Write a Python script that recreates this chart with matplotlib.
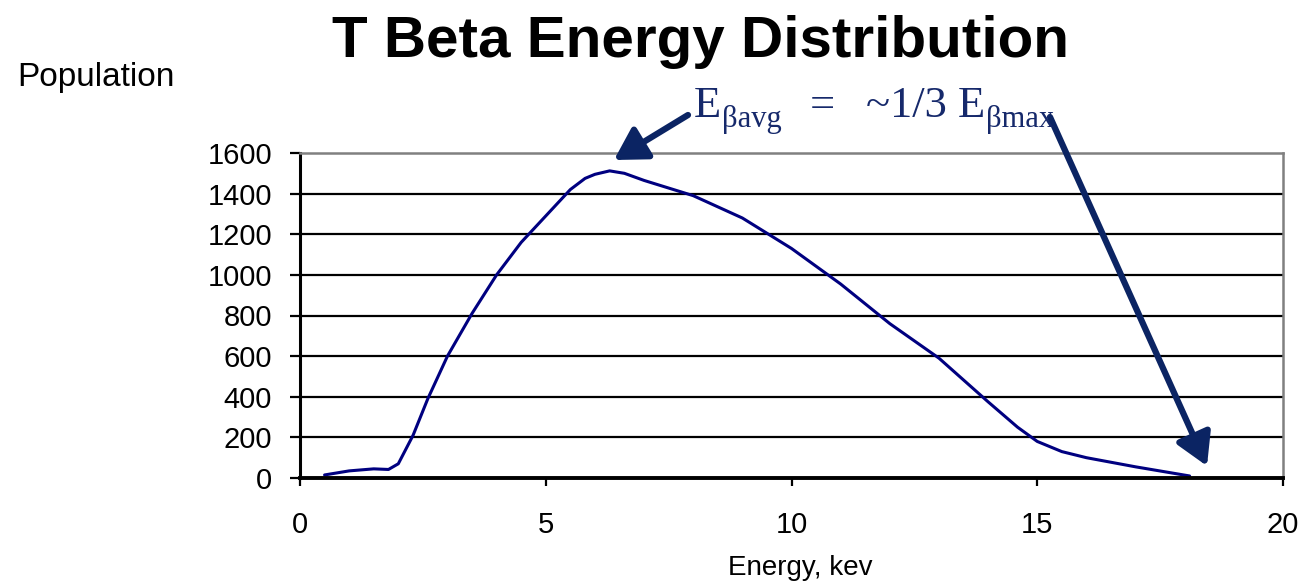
import numpy as np
import matplotlib
matplotlib.use('agg')
import matplotlib.pyplot as plt
from matplotlib.patches import FancyArrowPatch

# energy (kev) and population
energy = [0.5, 1.0, 1.5, 1.8, 2.0, 2.15, 2.3, 2.6, 3.0, 3.5, 4.0, 4.5, 5.0, 5.5, 5.8, 6.0, 6.3,
          6.6, 7.0, 8.0, 9.0, 10.0, 11.0, 12.0, 13.0, 14.0, 14.6, 15.0, 15.5, 16.0, 17.0, 18.1]
population = [15, 35, 45, 42, 70, 140, 210, 390, 600, 810, 1000, 1160, 1290, 1420, 1475, 1495, 1512,
              1500, 1465, 1390, 1280, 1130, 955, 760, 590, 375, 250, 180, 130, 100, 55, 10]

x_ticks = [0, 5, 10, 15, 20]
y_ticks = [0, 200, 400, 600, 800, 1000, 1200, 1400, 1600]

W, H = 1312, 585
NAVY = '#000080'
ARROW = '#0b2463'
TXT = '#16296b'

plt.rcParams['font.family'] = ['Liberation Sans', 'DejaVu Sans']

fig = plt.figure(figsize=(W / 100, H / 100), dpi=100)
ax = fig.add_axes([300 / W, 1 - 478 / H, (1283 - 300) / W, (478 - 153) / H])

ax.plot(energy, population, color=NAVY, lw=2.2, solid_joinstyle='round', solid_capstyle='round')

ax.set_xlim(0, 20)
ax.set_ylim(0, 1600)
ax.set_xticks(x_ticks)
ax.set_yticks(y_ticks)
for v in y_ticks[1:-1]:
    ax.axhline(v, color='black', lw=1.6, zorder=0)

for s in ['top', 'right']:
    ax.spines[s].set_color('#808080')
    ax.spines[s].set_linewidth(1.8)
ax.spines['left'].set_linewidth(2.2)
ax.spines['bottom'].set_linewidth(2.8)
ax.tick_params(axis='y', direction='out', length=7, width=1.6, labelsize=21, pad=13)
ax.tick_params(axis='x', direction='out', length=6, width=1.6, labelsize=21, pad=18)

fig.text(701 / W, 1 - 57 / H, 'T Beta Energy Distribution', ha='center', va='baseline',
         fontsize=42, fontweight='bold')
fig.text(17 / W, 1 - 86 / H, 'Population', ha='left', va='baseline', fontsize=24)
fig.text(800 / W, 1 - 568 / H, 'Energy, kev', ha='center', va='center', fontsize=20)

# annotation text
serif = ['Liberation Serif', 'DejaVu Serif']
fig.text(694 / W, 1 - 117 / H, 'E', family=serif, fontsize=32, color=TXT, va='baseline')
fig.text(722 / W, 1 - 127 / H, 'βavg', family=serif, fontsize=22, color=TXT, va='baseline')
fig.text(810 / W, 1 - 117 / H, '=', family=serif, fontsize=32, color=TXT, va='baseline')
fig.text(866 / W, 1 - 117 / H, '~1/3 E', family=serif, fontsize=32, color=TXT, va='baseline')
fig.text(986 / W, 1 - 127 / H, 'βmax', family=serif, fontsize=22, color=TXT, va='baseline')

for (x0, y0), (x1, y1) in [((688, 115), (614, 160)), ((1050, 117), (1207, 466))]:
    arr = FancyArrowPatch((x0 / W, 1 - y0 / H), (x1 / W, 1 - y1 / H),
                          transform=fig.transFigure, arrowstyle='-|>,head_length=12,head_width=7',
                          color=ARROW, lw=4.5, shrinkA=0, shrinkB=0, mutation_scale=1.6)
    fig.patches.append(arr)

fig.savefig('out.png', dpi=100)
